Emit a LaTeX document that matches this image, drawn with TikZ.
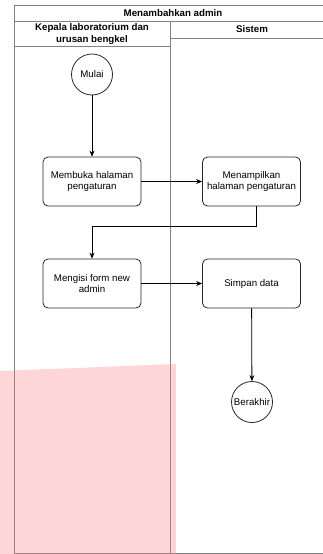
\documentclass[tikz,border=0pt]{standalone}
\usepackage{fontspec}
\setmainfont{Liberation Sans}
\usetikzlibrary{arrows.meta}
\definecolor{lanegray}{RGB}{130,130,130}
\definecolor{boxgray}{RGB}{40,40,40}
\definecolor{pinkish}{RGB}{255,118,125}
\tikzset{
  x=1pt, y=1pt,
  lane/.style={draw=lanegray, line width=0.9pt},
  hdr/.style={font=\fontsize{9.7}{11.7}\selectfont\bfseries, align=center, inner sep=0pt},
  proc/.style={draw=boxgray, line width=0.8pt, rounded corners=5pt, minimum width=98pt, minimum height=49pt, align=center, inner sep=1pt, font=\fontsize{9.7}{11.7}\selectfont},
  term/.style={draw=boxgray, line width=0.8pt, circle, inner sep=0pt, minimum size=41pt, font=\fontsize{9.7}{11.7}\selectfont},
  conn/.style={draw=black, line width=0.8pt, -{Stealth[length=6pt,width=5pt]}}
}
\begin{document}
\begin{tikzpicture}
\useasboundingbox (0,0) rectangle (323,-554);
\clip (0,0) rectangle (323,-554);
% swimlane frame
\draw[lane] (14,-5) rectangle (333,-553);
\draw[lane] (14,-21) -- (333,-21);
\draw[lane] (170,-21) -- (170,-553);
\draw[lane] (14,-46) -- (170,-46);
\draw[lane] (170,-38) -- (333,-38);
\node[hdr] (title) at (173,-13) {Menambahkan admin};
\node[hdr] (lane1) at (92,-34) {Kepala laboratorium dan\\urusan bengkel};
\node[hdr] (lane2) at (252,-29.5) {Sistem};
% nodes
\node[term] (mulai) at (92,-74.5) {Mulai};
\node[proc] (buka) at (92,-181.5) {Membuka halaman\\pengaturan};
\node[proc] (tampil) at (251.5,-181.5) {Menampilkan\\halaman pengaturan};
\node[proc] (isi) at (92,-283.5) {Mengisi form new\\admin};
\node[proc] (simpan) at (251.5,-283.5) {Simpan data};
\node[term] (akhir) at (252,-402) {Berakhir};
% connectors
\draw[conn] (mulai) -- (buka);
\draw[conn] (buka) -- (tampil);
\draw[conn] (tampil.south -| 256,0) -- (256,-226) -- (92,-226) -- (isi.north);
\draw[conn] (isi) -- (simpan);
\draw[conn] (simpan) -- (akhir);
% translucent pink overlay
\fill[pinkish, opacity=0.3] (0,-371) -- (176,-364) -- (176,-554) -- (0,-554) -- cycle;
\end{tikzpicture}
\end{document}
